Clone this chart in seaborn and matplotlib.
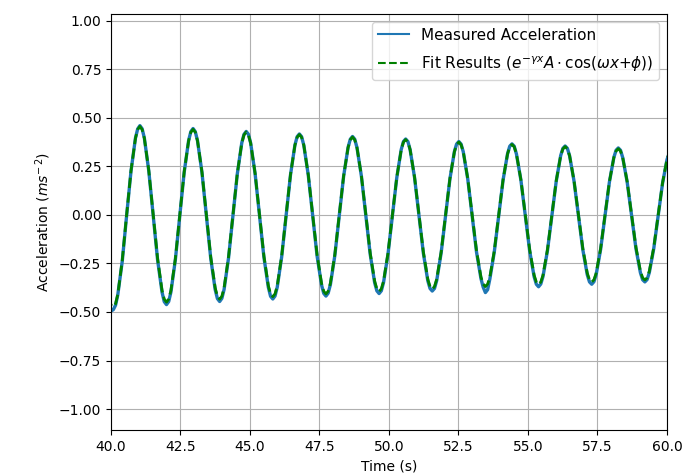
import matplotlib
matplotlib.use("Agg")
import matplotlib.pyplot as plt
import seaborn as sns
import pandas as pd

# Sample times (s) at key phase points
time = [
    39.924, 40.004, 40.084, 40.164, 40.244, 40.404, 40.562,
    40.720, 40.880, 40.960, 41.040, 41.120, 41.200, 41.360, 41.518,
    41.676, 41.836, 41.916, 41.996, 42.076, 42.156, 42.316, 42.474,
    42.632, 42.792, 42.872, 42.952, 43.032, 43.112, 43.272, 43.430,
    43.588, 43.748, 43.828, 43.908, 43.988, 44.068, 44.228, 44.386,
    44.544, 44.704, 44.784, 44.864, 44.944, 45.024, 45.184, 45.342,
    45.500, 45.660, 45.740, 45.820, 45.900, 45.980, 46.140, 46.298,
    46.456, 46.616, 46.696, 46.776, 46.856, 46.936, 47.096, 47.254,
    47.412, 47.572, 47.652, 47.732, 47.812, 47.892, 48.052, 48.210,
    48.368, 48.528, 48.608, 48.688, 48.768, 48.848, 49.008, 49.166,
    49.324, 49.484, 49.564, 49.644, 49.724, 49.804, 49.964, 50.122,
    50.280, 50.440, 50.520, 50.600, 50.680, 50.760, 50.920, 51.078,
    51.236, 51.396, 51.476, 51.556, 51.636, 51.716, 51.876, 52.034,
    52.192, 52.352, 52.432, 52.512, 52.592, 52.672, 52.832, 52.990,
    53.148, 53.308, 53.388, 53.468, 53.548, 53.628, 53.788, 53.946,
    54.104, 54.264, 54.344, 54.424, 54.504, 54.584, 54.744, 54.902,
    55.060, 55.220, 55.300, 55.380, 55.460, 55.540, 55.700, 55.858,
    56.016, 56.176, 56.256, 56.336, 56.416, 56.496, 56.656, 56.814,
    56.972, 57.132, 57.212, 57.292, 57.372, 57.452, 57.612, 57.770,
    57.928, 58.088, 58.168, 58.248, 58.328, 58.408, 58.568, 58.726,
    58.884, 59.044, 59.124, 59.204, 59.284, 59.364, 59.524, 59.682,
    59.840, 60.000, 60.080,
]

# Measured acceleration (m s^-2)
measured = [
    -0.450, -0.495, -0.488, -0.465, -0.412, -0.240, -0.004,
    0.226, 0.396, 0.443, 0.460, 0.444, 0.396, 0.226, -0.002,
    -0.232, -0.398, -0.447, -0.462, -0.446, -0.397, -0.230, -0.003,
    0.219, 0.383, 0.429, 0.445, 0.429, 0.382, 0.219, -0.002,
    -0.224, -0.385, -0.431, -0.446, -0.430, -0.384, -0.222, -0.003,
    0.212, 0.371, 0.415, 0.430, 0.415, 0.370, 0.212, -0.002,
    -0.217, -0.373, -0.419, -0.433, -0.418, -0.372, -0.216, -0.003,
    0.205, 0.360, 0.403, 0.417, 0.403, 0.359, 0.205, -0.002,
    -0.210, -0.360, -0.404, -0.418, -0.403, -0.359, -0.209, -0.003,
    0.199, 0.348, 0.390, 0.404, 0.390, 0.347, 0.199, -0.002,
    -0.203, -0.349, -0.391, -0.405, -0.391, -0.348, -0.202, -0.003,
    0.192, 0.337, 0.378, 0.391, 0.378, 0.336, 0.192, -0.002,
    -0.197, -0.339, -0.379, -0.392, -0.379, -0.338, -0.196, -0.003,
    0.186, 0.326, 0.365, 0.378, 0.365, 0.325, 0.186, -0.002,
    -0.191, -0.328, -0.372, -0.400, -0.385, -0.330, -0.190, -0.003,
    0.180, 0.315, 0.354, 0.366, 0.354, 0.314, 0.180, -0.002,
    -0.185, -0.318, -0.357, -0.370, -0.356, -0.317, -0.184, -0.003,
    0.174, 0.306, 0.343, 0.355, 0.343, 0.305, 0.174, -0.002,
    -0.179, -0.308, -0.345, -0.357, -0.344, -0.307, -0.178, -0.003,
    0.169, 0.296, 0.333, 0.345, 0.333, 0.295, 0.169, -0.002,
    -0.174, -0.298, -0.334, -0.345, -0.333, -0.297, -0.173, -0.003,
    0.163, 0.285, 0.318,
]

# Fit results  e^{-gamma x} A cos(omega x + phi), values read at the same times
fit = [
    -0.420, -0.466, -0.474, -0.458, -0.410, -0.236, 0.000,
    0.228, 0.395, 0.440, 0.456, 0.440, 0.395, 0.228, 0.000,
    -0.225, -0.389, -0.434, -0.449, -0.434, -0.389, -0.225, 0.000,
    0.221, 0.382, 0.426, 0.441, 0.426, 0.382, 0.221, 0.000,
    -0.217, -0.376, -0.419, -0.434, -0.419, -0.376, -0.217, 0.000,
    0.214, 0.370, 0.412, 0.427, 0.412, 0.370, 0.214, 0.000,
    -0.211, -0.365, -0.407, -0.421, -0.407, -0.365, -0.211, 0.000,
    0.207, 0.359, 0.400, 0.414, 0.400, 0.359, 0.207, 0.000,
    -0.204, -0.352, -0.393, -0.407, -0.393, -0.352, -0.204, 0.000,
    0.201, 0.347, 0.387, 0.401, 0.387, 0.347, 0.201, 0.000,
    -0.197, -0.341, -0.381, -0.394, -0.381, -0.341, -0.197, 0.000,
    0.194, 0.336, 0.375, 0.388, 0.375, 0.336, 0.194, 0.000,
    -0.191, -0.331, -0.369, -0.382, -0.369, -0.331, -0.191, 0.000,
    0.188, 0.325, 0.362, 0.375, 0.362, 0.325, 0.188, 0.000,
    -0.185, -0.320, -0.356, -0.369, -0.356, -0.320, -0.185, 0.000,
    0.182, 0.314, 0.351, 0.363, 0.351, 0.314, 0.182, 0.000,
    -0.179, -0.310, -0.346, -0.358, -0.346, -0.310, -0.179, 0.000,
    0.176, 0.305, 0.340, 0.352, 0.340, 0.305, 0.176, 0.000,
    -0.173, -0.300, -0.334, -0.346, -0.334, -0.300, -0.173, 0.000,
    0.171, 0.295, 0.329, 0.341, 0.329, 0.295, 0.171, 0.000,
    -0.168, -0.290, -0.324, -0.335, -0.324, -0.290, -0.168, 0.000,
    0.165, 0.286, 0.319,
]

x_ticks = [40.0, 42.5, 45.0, 47.5, 50.0, 52.5, 55.0, 57.5, 60.0]
y_ticks = [-1.00, -0.75, -0.50, -0.25, 0.00, 0.25, 0.50, 0.75, 1.00]

df = pd.DataFrame({"time": time, "measured": measured, "fit": fit})

fig = plt.figure(figsize=(6.86, 4.76), dpi=100)
ax = fig.add_axes([0.1618, 0.0966, 0.8105, 0.874])

sns.lineplot(data=df, x="time", y="measured", ax=ax, color="#1f77b4",
             linewidth=2.4, label="Measured Acceleration")
sns.lineplot(data=df, x="time", y="fit", ax=ax, color="green",
             linewidth=2.0, linestyle="--",
             label=r"Fit Results ($e^{-\gamma x}A \cdot \cos(\omega x{+}\phi)$)")

ax.set_xlim(40, 60)
ax.set_ylim(-1.108, 1.035)
ax.set_xticks(x_ticks)
ax.set_yticks(y_ticks)
ax.set_xticklabels([f"{v:.1f}" for v in x_ticks])
ax.set_yticklabels([f"{v:.2f}".replace("-", "\u2212") for v in y_ticks])
ax.grid(True, color="#b0b0b0", linewidth=0.8)
ax.set_xlabel("Time (s)")
ax.set_ylabel(r"Acceleration ($ms^{-\,2}$)")

leg = ax.legend(loc="upper right", fontsize=11, labelspacing=0.75)
for h in leg.get_lines():
    h.set_linewidth(1.5)

fig.savefig("out.png", dpi=100)
